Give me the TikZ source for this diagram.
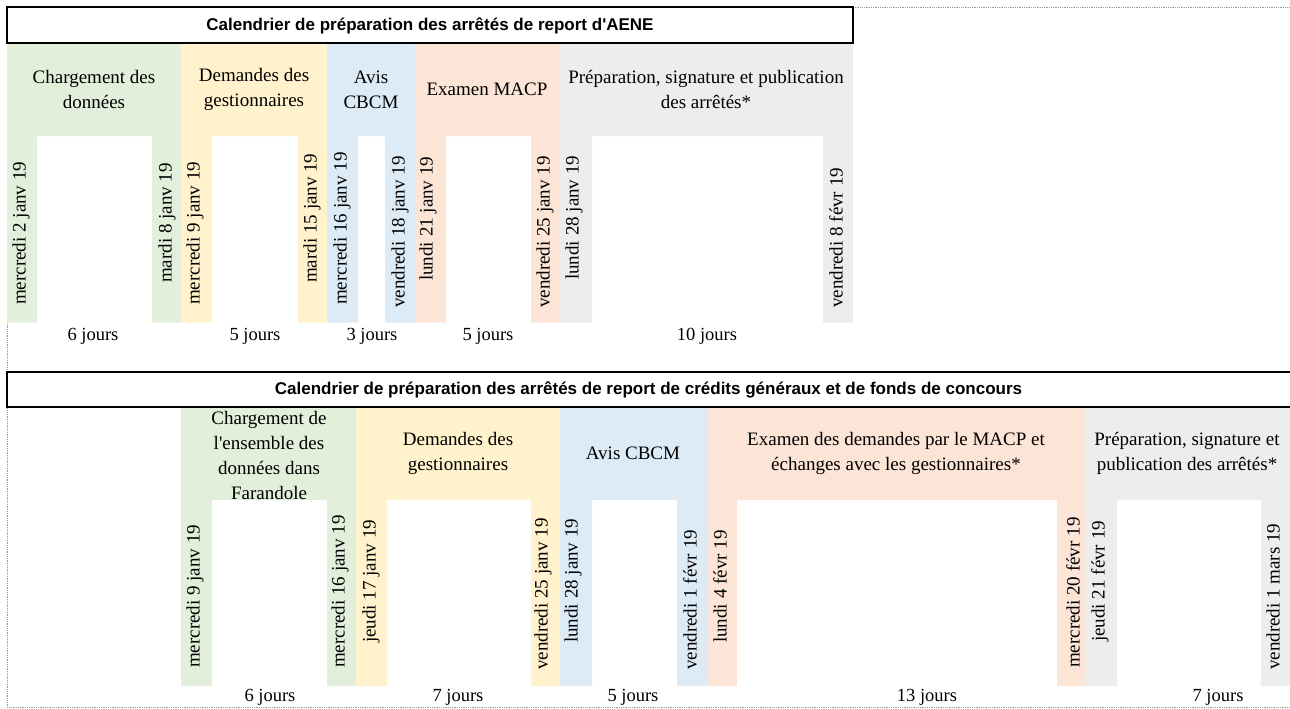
\documentclass[tikz,border=0pt]{standalone}
\usepackage{fontspec}
\setmainfont{Liberation Serif}
\newfontfamily\titlefont{Liberation Sans}
\definecolor{cG}{HTML}{E2EFDA}
\definecolor{cY}{HTML}{FFF2CC}
\definecolor{cB}{HTML}{DDEBF7}
\definecolor{cO}{HTML}{FCE4D6}
\definecolor{cR}{HTML}{EDEDED}
\newcommand\pishape[8]{%
  \fill[#1] (#2,#6) -- (#5,#6) -- (#5,#8) -- (#4,#8) -- (#4,#7) -- (#3,#7) -- (#3,#8) -- (#2,#8) -- cycle;}
\tikzset{
  hdr/.style={font=\fontsize{19}{25}\selectfont, align=center, inner sep=0pt},
  datelbl/.style={rotate=90, anchor=west, inner sep=0pt, font=\fontsize{19}{22}\selectfont},
  dur/.style={font=\fontsize{18.5}{22}\selectfont, inner sep=0pt},
  ttl/.style={font=\titlefont\bfseries\fontsize{17}{20}\selectfont, inner sep=0pt},
  boxline/.style={line width=2pt, black},
  pageline/.style={gray!80, line width=0.8pt, densely dotted}
}
\begin{document}
\begin{tikzpicture}[x=1pt,y=-1pt]
\useasboundingbox (0,0) rectangle (1290,709);
% page dotted border
\draw[pageline] (7,7) -- (7,707) -- (1290,707);
\draw[pageline] (853,7) -- (1290,7);
% ---------------- top section ----------------
\pishape{cG}{7}{37}{152}{181}{43}{136}{322.5}
\pishape{cY}{181}{212}{298}{327}{43}{136}{322.5}
\pishape{cB}{327}{358}{385}{415}{43}{136}{322.5}
\pishape{cO}{415}{446}{531}{560}{43}{136}{322.5}
\pishape{cR}{560}{592}{823}{853}{43}{136}{322.5}
\draw[boxline] (7,7) rectangle (853,43);
\node[ttl] (t1) at (430,25.5) {Calendrier de préparation des arrêtés de report d\textquotesingle AENE};
\node[hdr] (h1) at (94,89.5) {Chargement des\\données};
\node[hdr] (h2) at (254,89.5) {Demandes des\\gestionnaires};
\node[hdr] (h3) at (371,89.5) {Avis\\CBCM};
\node[hdr] (h4) at (487,89.5) {Examen MACP};
\node[hdr] (h5) at (706,89.5) {Préparation, signature et publication\\des arrêtés*};
\node[datelbl] (d1) at (21,305) {mercredi 2 janv 19};
\node[datelbl] (d2) at (167,283) {mardi 8 janv 19};
\node[datelbl] (d3) at (195,305) {mercredi 9 janv 19};
\node[datelbl] (d4) at (312,283) {mardi 15 janv 19};
\node[datelbl] (d5) at (342,305) {mercredi 16 janv 19};
\node[datelbl] (d6) at (400,308) {vendredi 18 janv 19};
\node[datelbl] (d7) at (428,281) {lundi 21 janv 19};
\node[datelbl] (d8) at (545,308) {vendredi 25 janv 19};
\node[datelbl] (d9) at (574,280) {lundi 28 janv 19};
\node[datelbl] (d10) at (836,308) {vendredi 8 févr 19};
\node[dur] (j1) at (93,336) {6 jours};
\node[dur] (j2) at (255,336) {5 jours};
\node[dur] (j3) at (372,336) {3 jours};
\node[dur] (j4) at (488,336) {5 jours};
\node[dur] (j5) at (707,336) {10 jours};
% ---------------- bottom section ----------------
\pishape{cG}{181}{212}{327}{356}{407}{500}{686}
\pishape{cY}{356}{387}{531}{560}{407}{500}{686}
\pishape{cB}{560}{592}{677}{707}{407}{500}{686}
\pishape{cO}{707}{737}{1057}{1086}{407}{500}{686}
\pishape{cR}{1086}{1117}{1261}{1292}{407}{500}{686}
\draw[boxline] (1292,372) -- (7,372) -- (7,407) -- (1292,407);
\node[ttl] (t2) at (648.5,390) {Calendrier de préparation des arrêtés de report de crédits généraux et de fonds de concours};
\node[hdr] (k1) at (269,455) {Chargement de\\l\textquotesingle ensemble des\\données dans\\Farandole};
\node[hdr] (k2) at (458,453.5) {Demandes des\\gestionnaires};
\node[hdr] (k3) at (633,453.5) {Avis CBCM};
\node[hdr] (k4) at (896,453.5) {Examen des demandes par le MACP et\\échanges avec les gestionnaires*};
\node[hdr] (k5) at (1187,453.5) {Préparation, signature et\\publication des arrêtés*};
\node[datelbl] (e1) at (195,668) {mercredi 9 janv 19};
\node[datelbl] (e2) at (340,668) {mercredi 16 janv 19};
\node[datelbl] (e3) at (371,643) {jeudi 17 janv 19};
\node[datelbl] (e4) at (543,670) {vendredi 25 janv 19};
\node[datelbl] (e5) at (573,643) {lundi 28 janv 19};
\node[datelbl] (e6) at (690,670) {vendredi 1 févr 19};
\node[datelbl] (e7) at (720,643) {lundi 4 févr 19};
\node[datelbl] (e8) at (1073,668) {mercredi 20 févr 19};
\node[datelbl] (e9) at (1100,642) {jeudi 21 févr 19};
\node[datelbl] (e10) at (1273,670) {vendredi 1 mars 19};
\node[dur] (m1) at (270,697.5) {6 jours};
\node[dur] (m2) at (458,697.5) {7 jours};
\node[dur] (m3) at (633,697.5) {5 jours};
\node[dur] (m4) at (927,697.5) {13 jours};
\node[dur] (m5) at (1218,697.5) {7 jours};
\end{tikzpicture}
\end{document}
